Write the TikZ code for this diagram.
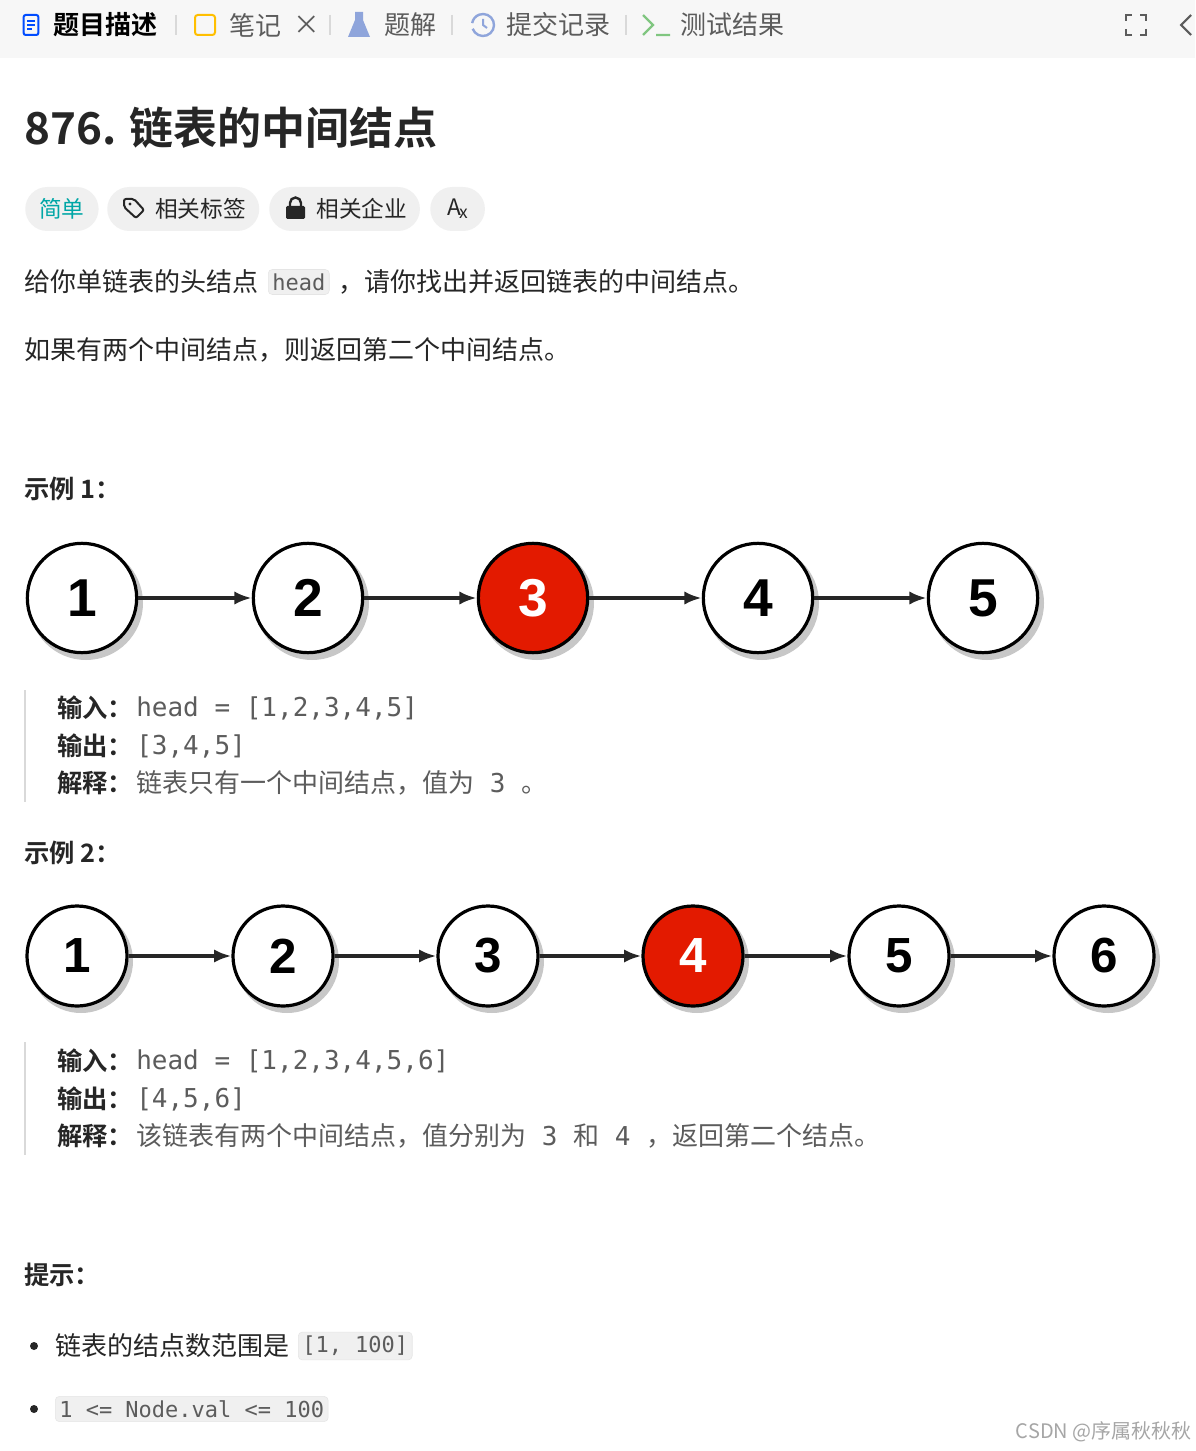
\documentclass[tikz,border=0pt]{standalone}
\usepackage{fontspec}
\setmainfont{Noto Sans CJK SC}
\newfontfamily\cn{Noto Sans CJK SC}
\newfontfamily\cnb{Noto Sans CJK SC Bold}
\newfontfamily\code{DejaVu Sans Mono}
\newfontfamily\numf{Liberation Sans}
\usetikzlibrary{arrows.meta}
\definecolor{txt}{HTML}{262626}
\definecolor{gr}{HTML}{5C5C5C}
\definecolor{pill}{HTML}{F0F0F0}
\definecolor{nred}{HTML}{E31A00}
\tikzset{
 lt/.style={anchor=west,inner sep=0pt,text=txt,font=\cn\fontsize{19.5}{22}\selectfont},
 hd/.style={anchor=west,inner sep=0pt,text=txt,font=\cnb\fontsize{19}{22}\selectfont},
 cd/.style={anchor=west,inner sep=0pt,text=gr,font=\code\fontsize{19.5}{22}\selectfont},
 tab/.style={anchor=west,inner sep=0pt,text=gr,font=\cn\fontsize{19.5}{22}\selectfont},
 pillbox/.style={fill=pill,rounded corners=16.5pt,inner sep=0pt,minimum height=33pt,anchor=west,font=\cn\fontsize{17}{18}\selectfont,text=txt},
 circA/.style={circle,draw=black,line width=2.4pt,minimum size=82pt,inner sep=0pt,font=\numf\bfseries\fontsize{40}{40}\selectfont,fill=white},
 circB/.style={circle,draw=black,line width=2.4pt,minimum size=75pt,inner sep=0pt,font=\numf\bfseries\fontsize{37}{37}\selectfont,fill=white},
 arr/.style={-{Latex[length=13pt,width=10pt]},line width=2.6pt,black!85},
 cbox/.style={fill=pill,draw=black!10,rounded corners=3pt,inner sep=3pt,anchor=west,font=\code\fontsize{16.5}{20}\selectfont,text=gr},
}
\begin{document}
\begin{tikzpicture}[x=0.75pt,y=-0.75pt]
\useasboundingbox (0,0) rectangle (1195,1451);
\fill[white] (0,0) rectangle (1195,1451);
\fill[black!3] (0,0) rectangle (1195,58);
% tabs
\node[draw=blue!70!cyan,line width=1.5pt,rounded corners=1.5pt,minimum width=11pt,minimum height=15pt,inner sep=0pt] (i1) at (31,25) {};
\draw[blue!70!cyan,line width=1.3pt] (27,21)--(35,21) (27,25)--(35,25) (27,29)--(32,29);
\node[anchor=west,inner sep=0pt,text=black,font=\cnb\fontsize{19.5}{22}\selectfont] (t1) at (53,25) {题目描述};
\draw[black!15,line width=1pt] (176,15)--(176,35);
\node[draw=orange!50!yellow,line width=1.5pt,rounded corners=2pt,minimum width=15pt,minimum height=15pt,inner sep=0pt] (i2) at (205,25) {};
\node[tab] (t2) at (229,25) {笔记};
\node[tab,text=gr] (x2) at (293,25) {\fontsize{20}{20}\selectfont ×};
\draw[black!15,line width=1pt] (330,15)--(330,35);
\fill[cyan!40!blue!45] (355,12)--(363,12)--(363,20)--(370,37)--(348,37)--(355,20)--cycle;
\node[tab] (t3) at (384,25) {题解};
\draw[black!15,line width=1pt] (452,15)--(452,35);
\draw[cyan!40!blue!45,line width=1.8pt] (483,25) ++(160:11) arc (160:-170:11);
\draw[cyan!40!blue!45,line width=1.5pt] (483,19)--(483,25)--(487,28);
\node[tab] (t4) at (506,25) {提交记录};
\draw[black!15,line width=1pt] (626,15)--(626,35);
\draw[green!55!black!50,line width=1.8pt] (643,15)--(653,25)--(643,35) (656,35)--(670,35);
\node[tab] (t5) at (680,25) {测试结果};
\draw[gr,line width=1.6pt] (1126,21)--(1126,15)--(1132,15) (1140,15)--(1146,15)--(1146,21) (1146,29)--(1146,35)--(1140,35) (1132,35)--(1126,35)--(1126,29);
\draw[gr,line width=1.6pt] (1191,15)--(1181,25)--(1191,35);
% title
\node[anchor=west,inner sep=0pt,text=txt,font=\cnb\fontsize{33}{36}\selectfont] (title) at (24,128) {876. 链表的中间结点};
% pills
\node[pillbox,minimum width=55pt,text=teal!70!cyan] (p1) at (25,209) {简单};
\node[pillbox,minimum width=114pt] (p2) at (107,209) {\hspace*{26pt}相关标签};
\draw[txt,line width=1.5pt,rounded corners=1.5pt] (124,199)--(134,199)--(144,210)--(136,218)--(124,207)--cycle;
\fill[txt] (130,204) circle (1.6);
\node[pillbox,minimum width=113pt] (p3) at (269,209) {\hspace*{26pt}相关企业};
\fill[txt,rounded corners=1pt] (286,206) rectangle (305,219);
\draw[txt,line width=1.8pt] (290,206)--(290,203) arc (180:360:5.5)--(301,206);
\node[pillbox,minimum width=41pt] (p4) at (430,209) {A\kern-1pt\raisebox{-2pt}{\fontsize{13}{13}\selectfont x}};
% text
\node[lt] (l1a) at (24,282) {给你单链表的头结点};
\node[cbox] (l1b) at (268,282) {head};
\node[lt] (l1c) at (338,282) {，请你找出并返回链表的中间结点。};
\node[lt] (l2) at (24,350) {如果有两个中间结点，则返回第二个中间结点。};
\node[hd] (e1) at (24,489) {示例 1：};
% example 1
\foreach \x in {82,308,533,758,983}{
 \fill[black!22] (\x+4,598+5) circle (57);
}
\foreach \n/\x in {1/82,2/308,4/758,5/983}{
 \node[circA] (a\n) at (\x,598) {\n};
}
\node[circA,fill=nred,text=white] (a3) at (533,598) {3};
\foreach \a/\b in {1/2,2/3,3/4,4/5}{\draw[arr] (a\a) -- (a\b);}
% block 1
\draw[black!15,line width=2pt] (25,690)--(25,802);
\node[hd] (o1a) at (57,708) {输入：};
\node[cd] (o1b) at (136,708) {head = [1,2,3,4,5]};
\node[hd] (o1c) at (57,746) {输出：};
\node[cd] (o1d) at (136,746) {[3,4,5]};
\node[hd] (o1e) at (57,783) {解释：};
\node[tab] (o1f) at (136,783) {链表只有一个中间结点，值为{\code\ 3 }。};
\node[hd] (e2) at (24,853) {示例 2：};
% example 2
\foreach \x in {77,283,488,693,899,1104}{
 \fill[black!22] (\x+4,956+5) circle (52);
}
\foreach \n/\x in {1/77,2/283,3/488,5/899,6/1104}{
 \node[circB] (b\n) at (\x,956) {\n};
}
\node[circB,fill=nred,text=white] (b4) at (693,956) {4};
\foreach \a/\b in {1/2,2/3,3/4,4/5,5/6}{\draw[arr] (b\a) -- (b\b);}
% block 2
\draw[black!15,line width=2pt] (25,1042)--(25,1155);
\node[hd] (o2a) at (57,1061) {输入：};
\node[cd] (o2b) at (136,1061) {head = [1,2,3,4,5,6]};
\node[hd] (o2c) at (57,1099) {输出：};
\node[cd] (o2d) at (136,1099) {[4,5,6]};
\node[hd] (o2e) at (57,1136) {解释：};
\node[tab] (o2f) at (136,1136) {该链表有两个中间结点，值分别为{\code\ 3 }和{\code\ 4 }，返回第二个结点。};
% hints
\node[hd] (h) at (24,1275) {提示：};
\fill[txt] (34,1346) circle (4);
\node[lt] (b1) at (55,1346) {链表的结点数范围是};
\node[cbox] (b1c) at (298,1346) {[1, 100]};
\fill[txt] (34,1409) circle (4);
\node[cbox] (b2c) at (55,1409) {1 <= Node.val <= 100};
\node[anchor=east,inner sep=0pt,text=black!35,font=\cn\fontsize{15}{16}\selectfont] (wm) at (1192,1432) {CSDN @序属秋秋秋};
\end{tikzpicture}
\end{document}
